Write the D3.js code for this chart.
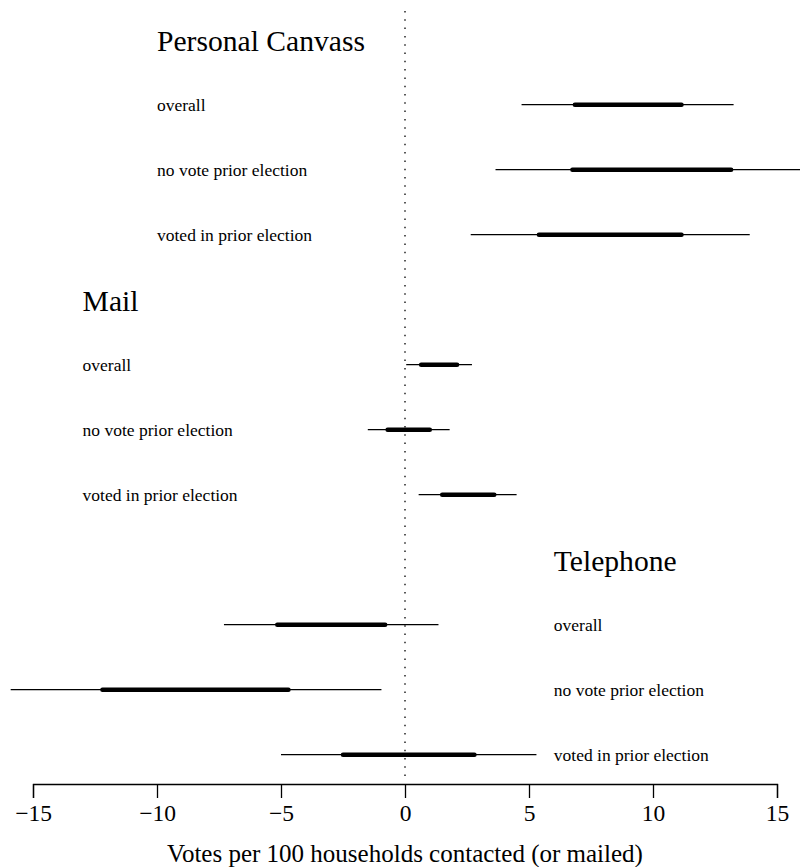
<!DOCTYPE html>
<html lang="en">
<head>
<meta charset="utf-8">
<style>
  body { margin: 0; background: #fff; }
</style>
</head>
<body>
<script src="https://d3js.org/d3.v7.min.js"></script>
<svg width="800" height="867"></svg>
<script>
// data
var groups = ["Personal Canvass", "Mail", "Telephone"];
var subgroups = ["overall", "no vote prior election", "voted in prior election"];
// outer (thin) and inner (thick) intervals, per group, per subgroup
var outerLo = [[4.7, 3.65, 2.65], [0.05, -1.5, 0.55], [-7.3, -15.9, -5.0]];
var outerHi = [[13.25, 16.5, 13.9], [2.7, 1.8, 4.5], [1.35, -0.95, 5.3]];
var innerLo = [[6.85, 6.75, 5.4], [0.65, -0.7, 1.5], [-5.15, -12.2, -2.5]];
var innerHi = [[11.15, 13.15, 11.15], [2.1, 1.0, 3.6], [-0.8, -4.7, 2.8]];
var xTicks = [-15, -10, -5, 0, 5, 10, 15];

var svg = d3.select("svg");
var serif = "'Liberation Serif', 'Times New Roman', Times, serif";

var x = d3.scaleLinear().domain([-15, 15]).range([33, 777]);
var y = d3.scaleLinear().domain([0, 11]).range([39.7, 754.7]);

// where each group's text starts, in data units
var textAt = [-10, -13, 6];

// reference line at zero
svg.append("line")
    .attr("x1", x(0)).attr("x2", x(0))
    .attr("y1", 11).attr("y2", 780)
    .attr("stroke", "#000")
    .attr("stroke-width", 1.3)
    .attr("stroke-dasharray", "1.5,6.8");

var rows = [];
groups.forEach(function (g, gi) {
    rows.push({ type: "title", text: g, row: gi * 4, gi: gi });
    subgroups.forEach(function (s, si) {
        rows.push({
            type: "item", text: s, row: gi * 4 + si + 1, gi: gi,
            lo: outerLo[gi][si], hi: outerHi[gi][si],
            ilo: innerLo[gi][si], ihi: innerHi[gi][si]
        });
    });
});

var titles = rows.filter(function (d) { return d.type == "title"; });
var items = rows.filter(function (d) { return d.type == "item"; });

svg.selectAll(".title")
    .data(titles)
    .enter().append("text")
    .attr("class", "title")
    .attr("x", function (d) { return x(textAt[d.gi]); })
    .attr("y", function (d) { return y(d.row) + 11; })
    .attr("font-family", serif)
    .attr("font-size", "29.6px")
    .text(function (d) { return d.text; });

svg.selectAll(".label")
    .data(items)
    .enter().append("text")
    .attr("class", "label")
    .attr("x", function (d) { return x(textAt[d.gi]); })
    .attr("y", function (d) { return y(d.row) + 6; })
    .attr("font-family", serif)
    .attr("font-size", "17.5px")
    .text(function (d) { return d.text; });

svg.selectAll(".outer")
    .data(items)
    .enter().append("line")
    .attr("class", "outer")
    .attr("x1", function (d) { return x(d.lo); })
    .attr("x2", function (d) { return x(d.hi); })
    .attr("y1", function (d) { return y(d.row); })
    .attr("y2", function (d) { return y(d.row); })
    .attr("stroke", "#000")
    .attr("stroke-width", 1.3);

svg.selectAll(".inner")
    .data(items)
    .enter().append("line")
    .attr("class", "inner")
    .attr("x1", function (d) { return x(d.ilo); })
    .attr("x2", function (d) { return x(d.ihi); })
    .attr("y1", function (d) { return y(d.row); })
    .attr("y2", function (d) { return y(d.row); })
    .attr("stroke", "#000")
    .attr("stroke-width", 4.5)
    .attr("stroke-linecap", "round");

// bottom axis
var axis = svg.append("g")
    .attr("transform", "translate(0,784)")
    .call(d3.axisBottom(x).tickValues(xTicks).tickSize(14).tickPadding(6)
        .tickFormat(function (d) { return d < 0 ? "\u2212" + Math.abs(d) : d; }));
axis.attr("font-family", serif);
axis.select(".domain").attr("stroke", "#000").attr("stroke-width", 1.3);
axis.selectAll(".tick line").attr("stroke", "#000").attr("stroke-width", 1.3);
axis.selectAll(".tick text")
    .attr("font-family", serif)
    .attr("font-size", "23.5px")
    .attr("fill", "#000");

svg.append("text")
    .attr("x", x(0))
    .attr("y", 862)
    .attr("text-anchor", "middle")
    .attr("font-family", serif)
    .attr("font-size", "25px")
    .text("Votes per 100 households contacted (or mailed)");
</script>
</body>
</html>
